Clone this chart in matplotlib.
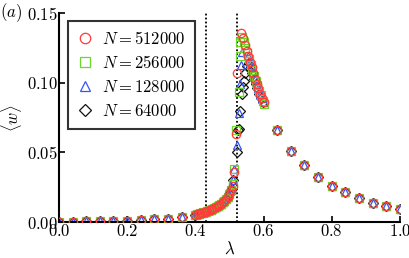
import numpy as np
import matplotlib
matplotlib.use("Agg")
import matplotlib.pyplot as plt

plt.rcParams["mathtext.fontset"] = "cm"
plt.rcParams["font.family"] = "serif"
plt.rcParams["font.serif"] = ["DejaVu Serif"]

# shared parts of the curves (all sizes coincide away from the transition)
lam_low = [0.00, 0.04, 0.08, 0.12, 0.16, 0.20, 0.24, 0.28, 0.32, 0.36]
w_low = [0.0000, 0.0002, 0.0004, 0.0006, 0.0008, 0.0010, 0.0014, 0.0019, 0.0025, 0.0033]

lam_rise = [0.400, 0.405, 0.410, 0.415, 0.420, 0.425, 0.430, 0.435, 0.440, 0.445,
            0.450, 0.455, 0.460, 0.465, 0.470, 0.475, 0.480, 0.485, 0.490, 0.495,
            0.500, 0.505]
w_rise = [0.0050, 0.0054, 0.0058, 0.0062, 0.0066, 0.0070, 0.0074, 0.0079, 0.0084, 0.0089,
          0.0095, 0.0101, 0.0107, 0.0114, 0.0122, 0.0131, 0.0141, 0.0152, 0.0166, 0.0182,
          0.0202, 0.0228]

lam_tail = [0.64, 0.68, 0.72, 0.76, 0.80, 0.84, 0.88, 0.92, 0.96, 1.00]
w_tail = [0.0657, 0.0510, 0.0407, 0.0324, 0.0259, 0.0212, 0.0169, 0.0140, 0.0114, 0.0093]

# transition region, per system size
lam_512k = [0.510, 0.513, 0.5195, 0.521, 0.535, 0.540, 0.545, 0.550, 0.555, 0.560,
            0.565, 0.570, 0.575, 0.580, 0.585, 0.590, 0.595, 0.600]
w_512k = [0.026, 0.036, 0.063, 0.107, 0.136, 0.132, 0.127, 0.123, 0.119, 0.115,
          0.111, 0.107, 0.103, 0.099, 0.096, 0.092, 0.089, 0.086]

lam_256k = [0.510, 0.513, 0.519, 0.527, 0.530, 0.531, 0.537, 0.542, 0.547, 0.552,
            0.557, 0.562, 0.567, 0.572, 0.577, 0.582, 0.587, 0.592, 0.597, 0.601]
w_256k = [0.027, 0.038, 0.066, 0.093, 0.119, 0.129, 0.133, 0.129, 0.125, 0.121,
          0.117, 0.113, 0.109, 0.105, 0.101, 0.098, 0.094, 0.091, 0.087, 0.085]

lam_128k = [0.511, 0.513, 0.521, 0.527, 0.532, 0.534, 0.536, 0.555, 0.560, 0.565,
            0.570, 0.575, 0.580, 0.585, 0.590, 0.595, 0.600]
w_128k = [0.030, 0.038, 0.055, 0.078, 0.099, 0.113, 0.122, 0.119, 0.115, 0.111,
          0.107, 0.103, 0.099, 0.096, 0.092, 0.089, 0.086]

lam_64k = [0.511, 0.521, 0.524, 0.527, 0.532, 0.537, 0.540, 0.542, 0.547, 0.552,
           0.557, 0.562, 0.567, 0.572, 0.577, 0.582, 0.587, 0.592, 0.597]
w_64k = [0.030, 0.050, 0.0657, 0.067, 0.080, 0.092, 0.097, 0.101, 0.107, 0.112,
         0.114, 0.111, 0.107, 0.103, 0.099, 0.096, 0.092, 0.089, 0.086]

lam_c1 = 0.43
lam_c2 = 0.523

series = [
    ("$N = 512000$", lam_512k, w_512k, "o", "#ff3a3a", 4, 6.0),
    ("$N = 256000$", lam_256k, w_256k, "s", "#6cd62a", 3, 6.0),
    ("$N = 128000$", lam_128k, w_128k, "^", "#3355ff", 2, 6.0),
    ("$N = 64000$", lam_64k, w_64k, "D", "#111111", 1, 4.6),
]

fig = plt.figure(figsize=(4.09, 2.58), dpi=100)
ax = fig.add_axes([0.144, 0.1395, 0.834, 0.81])

for label, lam_mid, w_mid, mk, col, z, ms in series:
    x = lam_low + lam_rise + lam_mid + lam_tail
    y = w_low + w_rise + w_mid + w_tail
    ax.plot(x, y, linestyle="none", marker=mk, markersize=ms, markerfacecolor="none",
            markeredgecolor=col, markeredgewidth=0.9, label=label, zorder=z)

ax.axvline(lam_c1, color="k", linestyle=(0, (1, 1.2)), linewidth=1.3, zorder=0)
ax.axvline(lam_c2, color="k", linestyle=(0, (1, 1.2)), linewidth=1.3, zorder=0)

ax.set_xlim(0, 1.0)
ax.set_ylim(0, 0.15)
ax.set_xticks([0.0, 0.2, 0.4, 0.6, 0.8, 1.0])
ax.set_yticks([0.0, 0.05, 0.10, 0.15])
ax.set_xticklabels([r"$0.0$", r"$0.2$", r"$0.4$", r"$0.6$", r"$0.8$", r"$1.0$"], fontsize=12)
ax.set_yticklabels([r"$0.00$", r"$0.05$", r"$0.10$", r"$0.15$"], fontsize=12)
ax.tick_params(direction="in", length=4, width=1.2, pad=1)
for s in ["top", "right"]:
    ax.spines[s].set_visible(False)
for s in ["left", "bottom"]:
    ax.spines[s].set_linewidth(1.5)

ax.set_xlabel(r"$\lambda$", fontsize=12, labelpad=0)
ax.set_ylabel(r"$\langle w\rangle$", fontsize=12, labelpad=2)
fig.text(0.0, 0.95, r"$(a)$", fontsize=12, va="center", ha="left")

leg = ax.legend(loc="upper left", bbox_to_anchor=(0.026, 0.96), borderaxespad=0,
                fontsize=12, frameon=True, fancybox=False, edgecolor="k",
                handlelength=1.0, handletextpad=0.5, labelspacing=0.42,
                borderpad=0.55, markerscale=1.25)
leg.get_frame().set_linewidth(1.5)

fig.savefig("out.png", dpi=100)
